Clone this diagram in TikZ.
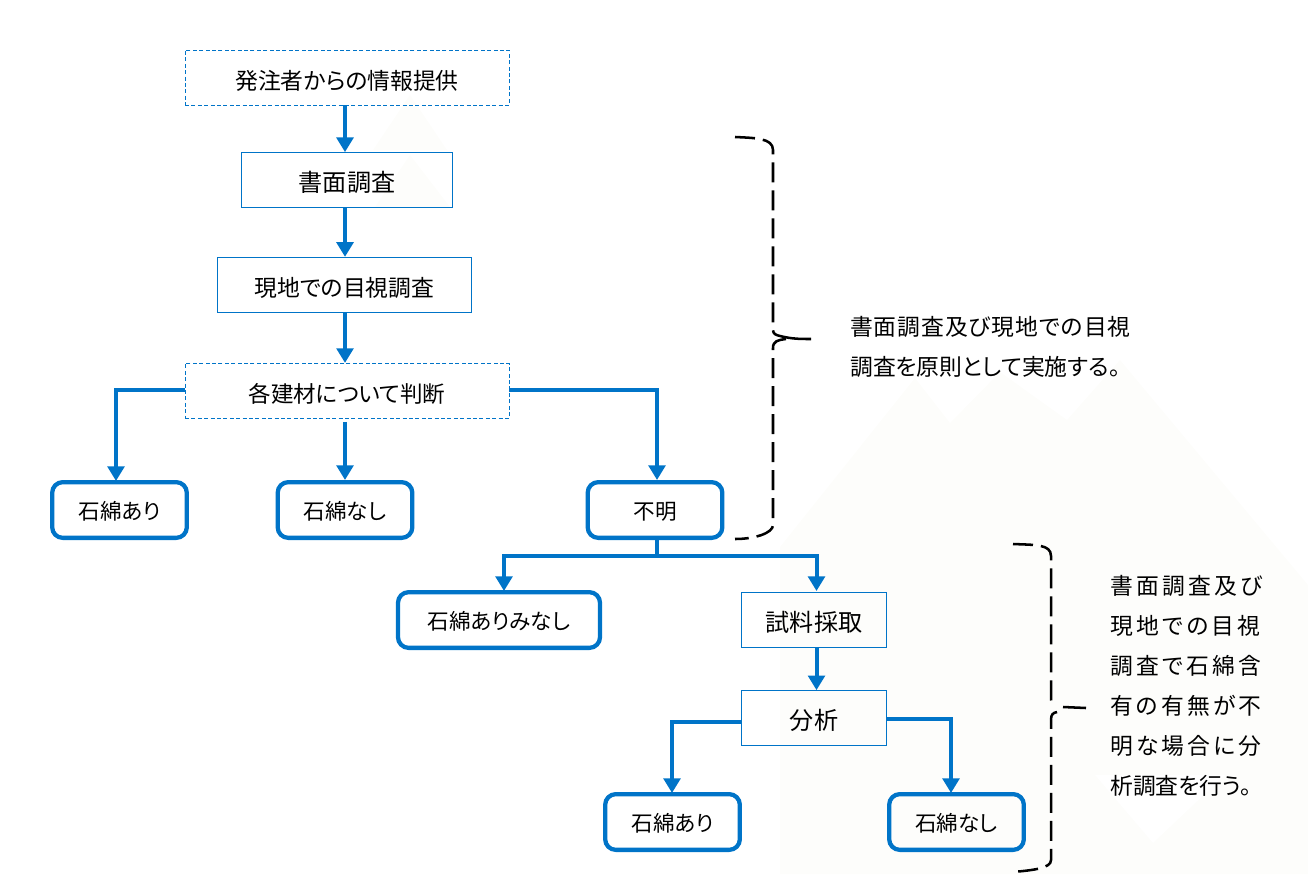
\documentclass[tikz,border=0pt]{standalone}
\usepackage{fontspec}
\setmainfont{Noto Sans CJK JP}[RawFeature=+palt]
\newfontfamily\spreadfont{Noto Sans CJK JP}[RawFeature=+palt, LetterSpace=14]
\newfontfamily\widefont{Noto Sans CJK JP}[RawFeature=+palt, LetterSpace=4]
\usetikzlibrary{arrows.meta, positioning, calc}
\definecolor{flowblue}{HTML}{0074C8}
\definecolor{faintbg}{HTML}{FDFDFB}

\begin{document}
\begin{tikzpicture}[
                x=0.75pt, y=-0.75pt,
                every node/.style={font=\fontsize{17.1pt}{20pt}\selectfont, text=black},
                plain box/.style={draw=flowblue, line width=0.8pt, minimum height=41.25pt, inner sep=0pt,
                                  text height=18pt, text depth=0.5pt},
                kanji box/.style={plain box, font=\fontsize{18.1pt}{20pt}\selectfont},
                dash box/.style={plain box, line width=0.7pt, dash pattern=on 3pt off 1.8pt, minimum width=243pt},
                result box/.style={draw=flowblue, line width=3.2pt, rounded corners=8pt,
                                   minimum height=41.8pt, inner sep=0pt,
                                   font=\fontsize{16.2pt}{20pt}\selectfont,
                                   text height=15pt, text depth=0.5pt},
                flow/.style={draw=flowblue, line width=3pt, -{Triangle[length=11pt, width=12.5pt]}},
                flowline/.style={draw=flowblue, line width=3pt},
                bracket/.style={draw=black, line width=1.9pt, dash pattern=on 15pt off 6pt},
                note/.style={align=left, anchor=north west, inner sep=0pt}]

                \useasboundingbox (0,0) rectangle (1308,874);

                % faint mountains behind the flow
                \fill[faintbg] (410,95) -- (447,150) -- (373,150) -- cycle;
                \fill[faintbg] (410,155) -- (450,207) -- (375,207) -- cycle;
                \fill[faintbg] (780,547) -- (915,378) -- (950,423) -- (1000,372) -- (1067,420) -- (1120,360)
                    -- (1308,585) -- (1308,874) -- (780,874) -- cycle;
                \fill[white] (1095,775) -- (1153,843) -- (1225,775) -- cycle;

                % main flow - position relative to each other
                \node[dash box] (info) at (347,77.5) {発注者からの情報提供};
                \node[kanji box, minimum width=158pt, below=35pt of info] (shomen) {書面調査};
                \node[plain box, minimum width=191pt, below=36.5pt of shomen, xshift=-1.9pt] (genchi) {現地での目視調査};
                \node[dash box, below=37.5pt of genchi, xshift=1.9pt] (kenzai) {\fontsize{16.9pt}{20pt}\selectfont 各建材について判断};

                % results of the first judgement
                \node[result box, minimum width=101pt] (ari) at (119.5,510) {石綿あり};
                \node[result box, minimum width=101pt] (nashi) at (345,510) {石綿なし};
                \node[result box, minimum width=101pt] (fumei) at (655,510) {不明};
                \node[result box, minimum width=151.5pt] (minashi) at (499,620) {石綿ありみなし};

                % analysis branch
                \node[kanji box, minimum width=109pt] (shiryo) at (814,620) {試料採取};
                \node[kanji box, minimum width=109pt, below=31.6pt of shiryo] (bunseki) {分析};
                \node[result box, minimum width=101pt] (ari2) at (672.5,822) {石綿あり};
                \node[result box, minimum width=101pt] (nashi2) at (956.5,822) {石綿なし};

                % helper points for the connectors
                \coordinate (spine) at (345,0);
                \coordinate (fork) at (657,556);

                % connectors
                \draw[flow] (info.south -| spine) -- (shomen.north -| spine);
                \draw[flow] (shomen.south -| spine) -- (genchi.north -| spine);
                \draw[flow] (genchi.south -| spine) -- (kenzai.north -| spine);
                \draw[flow] ($(kenzai.south -| spine)+(0,3)$) -- (nashi.north);
                \draw[flow] ($(kenzai.west)+(0,-1)$) -| (116,481);
                \draw[flow] ($(kenzai.east)+(0,-1)$) -| (fork |- fumei.north);
                \draw[flowline] (fork |- fumei.south) -- (fork);
                \draw[flow] (fork) -| (504,591);
                \draw[flow] (fork) -| (816.5,591);
                \draw[flow] (shiryo.south -| 816.5,0) -- (bunseki.north -| 816.5,0);
                \draw[flow] ($(bunseki.west)+(0,4)$) -| (672,793);
                \draw[flow] ($(bunseki.east)+(0,1)$) -| (951,793);

                % brackets
                \draw[bracket] (735,137) .. controls (755,138) and (773,138) .. (773,150) -- (773,330)
                    .. controls (773,334) and (776,335) .. (780,336);
                \draw[bracket, dash pattern=on 30pt off 0pt] (780,336) .. controls (792,339) and (800,339) .. (811,339);
                \draw[bracket] (786,339) .. controls (778,340) and (773,341) .. (773,348) -- (773,525)
                    .. controls (773,533) and (755,539) .. (735,539);
                \draw[bracket] (1013,544) .. controls (1035,545) and (1051,544) .. (1051,556) -- (1051,700)
                    .. controls (1051,704) and (1053,705) .. (1056,705);
                \draw[bracket, dash pattern=on 30pt off 0pt] (1063,707) -- (1086,708);
                \draw[bracket] (1057,712) .. controls (1053,713) and (1051,714) .. (1051,720) -- (1051,860)
                    .. controls (1051,868) and (1035,870) .. (1013,872);

                % notes
                \node[note, font=\fontsize{17.1pt}{30pt}\selectfont] (note1) at (850,316)
                    {{\widefont 書面調査及び現地での目視}\\調査を原則として実施する。};
                \node[note, font=\fontsize{17.1pt}{30pt}\selectfont] (note2) at (1110,575)
                    {{\spreadfont 書面調査及び}\\{\spreadfont 現地での目視}\\{\spreadfont 調査で石綿含}\\{\spreadfont 有の有無が不}\\{\spreadfont 明な場合に分}\\析調査を行う。};
            \end{tikzpicture}
\end{document}
